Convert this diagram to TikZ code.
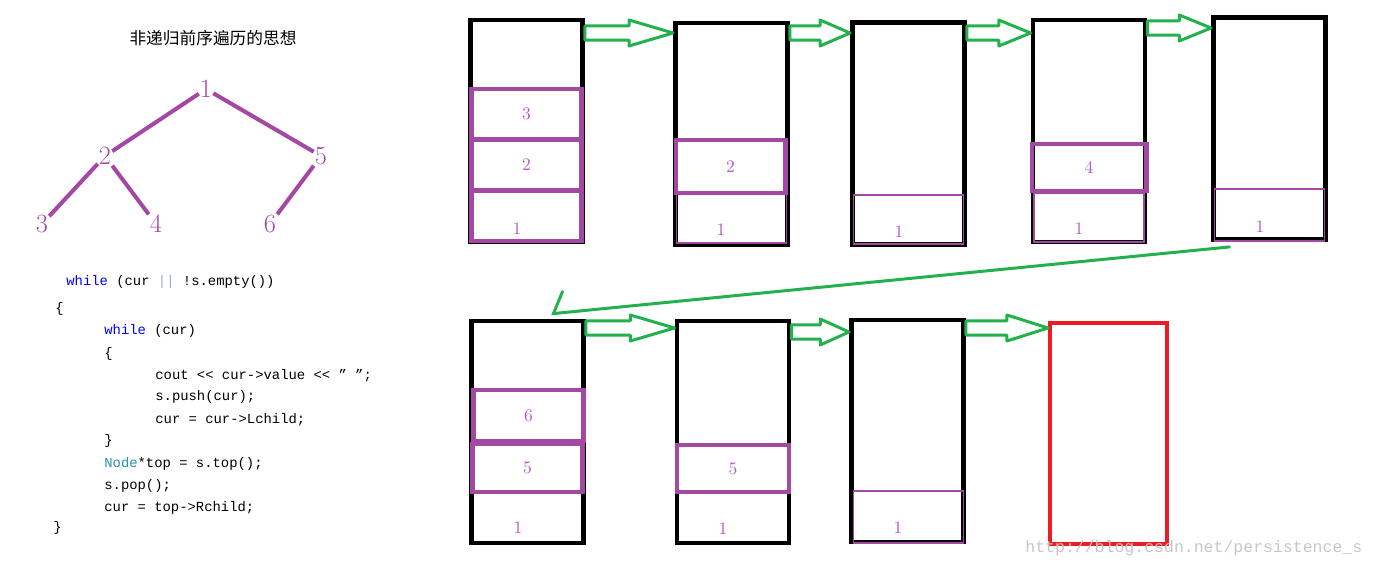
\documentclass[tikz,border=0pt]{standalone}
\usepackage{fontspec}
\newfontfamily\cjk{Noto Sans CJK SC}
\newfontfamily\codefont[Ligatures=TeXOff]{Liberation Mono}
\usetikzlibrary{calc}

\definecolor{stackpurple}{RGB}{163,73,164}
\definecolor{numpurple}{RGB}{180,90,200}
\definecolor{arrowgreen}{RGB}{34,177,76}
\definecolor{paintred}{RGB}{237,28,36}
\definecolor{kwblue}{RGB}{0,0,255}
\definecolor{typeblue}{RGB}{43,145,175}
\definecolor{opgray}{RGB}{150,170,205}

\tikzset{
  stackbox/.style={draw=black, line width=2.8pt, minimum width=2.24cm, minimum height=4.44cm, inner sep=0pt},
  emptybox/.style={draw=paintred, line width=2.3pt, minimum width=2.34cm, minimum height=4.42cm, inner sep=0pt},
  cellthick/.style={draw=stackpurple, line width=2.3pt, minimum width=2.2cm, inner sep=0pt,
    text=numpurple, font=\fontsize{10}{12}\selectfont},
  cellthin/.style={cellthick, line width=1pt},
  num/.style={text=numpurple, font=\fontsize{10}{12}\selectfont, inner sep=0pt},
  treenum/.style={text=stackpurple, font=\fontsize{15}{18}\selectfont, inner sep=0.5pt},
  treeedge/.style={draw=stackpurple, line width=2.3pt},
  codeline/.style={anchor=west, inner sep=0pt, font=\codefont\fontsize{7.9}{10}\selectfont},
  garrow/.style={draw=arrowgreen, line width=1.7pt, line join=round},
  gline/.style={draw=arrowgreen, line width=1.7pt, line cap=round}
}

% hollow block arrow from the east side of #1 to the west side of #2, at height #3
\newcommand{\hollowarrow}[3]{%
  \draw[garrow] let \p1=(#1.east), \p2=(#2.west), \p3=(0,#3) in
    (\x1,{\y3+4pt}) -- ({(\x1+\x2)/2},{\y3+4pt}) -- ({(\x1+\x2)/2},{\y3+7.4pt}) -- (\x2,\y3)
    -- ({(\x1+\x2)/2},{\y3-7.4pt}) -- ({(\x1+\x2)/2},{\y3-4pt}) -- (\x1,{\y3-4pt}) -- cycle;}

\begin{document}
\begin{tikzpicture}[x=0.02cm, y=-0.02cm]
  \useasboundingbox (0,0) rectangle (1375,567);

  % title and tree
  \node[font=\cjk\fontsize{9.5}{11}\selectfont] (title) at (213,38) {非递归前序遍历的思想};
  \node[treenum] (t1) at (206,89) {1};
  \node[treenum] (t2) at (105,156) {2};
  \node[treenum] (t5) at (321,156) {5};
  \node[treenum] (t3) at (42,224) {3};
  \node[treenum] (t4) at (156,224) {4};
  \node[treenum] (t6) at (270,224) {6};
  \draw[treeedge] (t1) -- (t2);
  \draw[treeedge] (t1) -- (t5);
  \draw[treeedge] (t2) -- (t3);
  \draw[treeedge] (t2) -- (t4);
  \draw[treeedge] (t5) -- (t6);

  % code
  \node[codeline] (c1) at (66,282) {{\color{kwblue}while} (cur {\color{opgray}||} !s.empty())};
  \node[codeline] (c2) at (55,309) {\{};
  \node[codeline] (c3) at (104,331) {{\color{kwblue}while} (cur)};
  \node[codeline] (c4) at (104,354) {\{};
  \node[codeline] (c5) at (155,376) {cout << cur->value << ” ”;};
  \node[codeline] (c6) at (155,397) {s.push(cur);};
  \node[codeline] (c7) at (155,420) {cur = cur->Lchild;};
  \node[codeline] (c8) at (104,441) {\}};
  \node[codeline] (c9) at (104,464) {{\color{typeblue}Node}*top = s.top();};
  \node[codeline] (c10) at (104,486) {s.pop();};
  \node[codeline] (c11) at (104,508) {cur = top->Rchild;};
  \node[codeline] (c12) at (53,528) {\}};

  % top row of stacks
  \node[stackbox] (s1) at (526.5,131) {};
  \node[cellthick, minimum height=1cm] (a3) at (526.5,114) {3};
  \node[cellthick, minimum height=1cm] (a2) at (526.5,165) {2};
  \node[cellthick, minimum height=1cm] (a1) at (526.5,216) {};
  \node[num] (a1n) at (517,229) {1};

  \node[stackbox] (s2) at (731.5,134) {};
  \node[cellthin, minimum height=1cm] (b1c) at (731.5,218) {};
  \node[cellthick, minimum height=1.06cm] (b2c) at (730.5,166.5) {2};
  \node[num] (b1n) at (721,230) {1};

  \node[stackbox] (s3) at (908.5,133.5) {};
  \node[cellthin, minimum height=0.98cm] (d1c) at (908.5,219.5) {};
  \node[num] (d1n) at (899,232) {1};

  \node[stackbox] (s4) at (1089,131) {};
  \node[cellthin, minimum height=0.98cm] (e1c) at (1089,217.5) {};
  \node[cellthick, minimum height=0.94cm, minimum width=2.3cm] (e4c) at (1089,167.5) {4};
  \node[num] (e1n) at (1079,229) {1};

  \node[stackbox] (s5) at (1269.5,128.5) {};
  \node[cellthin, minimum height=1.04cm] (f1c) at (1269.5,215) {};
  \node[num] (f1n) at (1260,227) {1};

  % bottom row of stacks
  \node[stackbox] (b1) at (527.5,432) {};
  \node[cellthick, minimum height=1.02cm] (g6) at (528.5,415.5) {6};
  \node[cellthick, minimum height=0.96cm] (g5) at (527.5,468) {5};
  \node[num] (g1n) at (518,528) {1};

  \node[stackbox] (b2) at (733,432) {};
  \node[cellthick, minimum height=0.94cm, minimum width=2.24cm] (h5) at (733,468.5) {5};
  \node[num] (h1n) at (723,529) {1};

  \node[stackbox] (b3) at (907.5,431) {};
  \node[cellthin, minimum height=1.04cm] (k1c) at (908.5,517) {};
  \node[num] (k1n) at (898,528) {1};

  \node[emptybox] (r) at (1108.5,433.5) {};

  % arrows
  \hollowarrow{s1}{s2}{33}
  \hollowarrow{s2}{s3}{33}
  \hollowarrow{s3}{s4}{33}
  \hollowarrow{s4}{s5}{28}
  \hollowarrow{b1}{b2}{328}
  \hollowarrow{b2}{b3}{332}
  \hollowarrow{b3}{r}{328}
  \draw[gline] ($(s5.south)+(-40,5)$) -- ($(b1.north)+(26,-5)$) -- ++(9,-22);

  \node[anchor=west, inner sep=0pt, text=black!22, font=\codefont\fontsize{9.4}{11}\selectfont]
    (mark) at (1025,548) {http://blog.csdn.net/persistence\_s};
\end{tikzpicture}
\end{document}
